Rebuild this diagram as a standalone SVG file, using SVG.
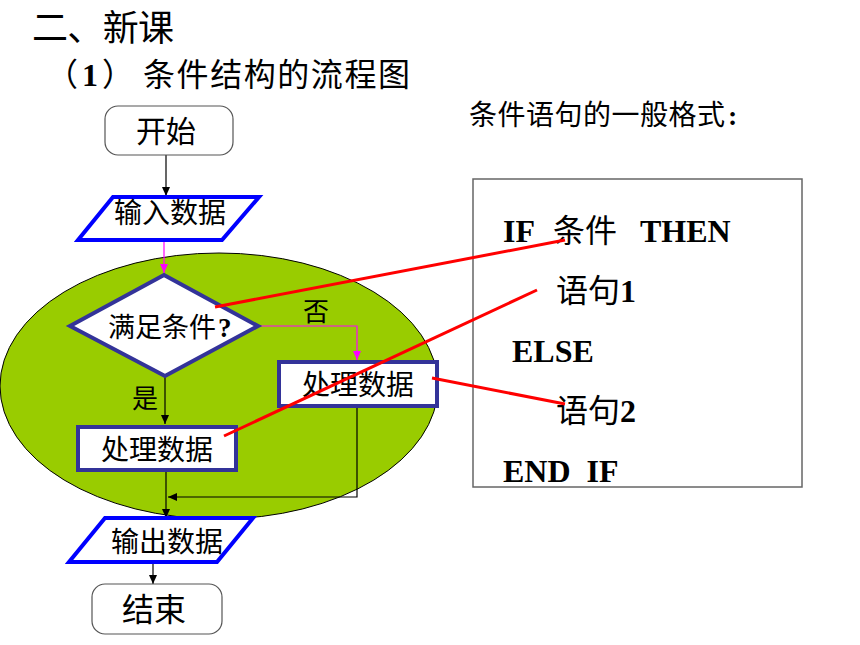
<svg xmlns="http://www.w3.org/2000/svg" width="860" height="645" viewBox="0 0 860 645">
<style>
  text { font-family: "Liberation Serif", "Noto Sans CJK SC", serif; fill: #000; }
  .cjk { font-family: "Noto Sans CJK SC", sans-serif; font-weight: normal; }
  .code { font-family: "Liberation Serif", "Noto Sans CJK SC", serif; font-weight: bold; font-size: 32px; }
  .b { font-family: "Liberation Serif", serif; font-weight: bold; }
  .term { fill: #fff; stroke: #555; stroke-width: 1.2; }
  .io { fill: #fff; stroke: #0000ff; stroke-width: 4; }
  .proc { fill: #fff; stroke: #333399; stroke-width: 4; }
  .blk { fill: none; stroke: #000; stroke-width: 1.2; }
  .mag { fill: none; stroke: #ff00ff; stroke-width: 1.2; }
  .red { fill: none; stroke: #ff0000; stroke-width: 3; }
</style>
<defs>
  <marker id="ab" markerWidth="10" markerHeight="10" refX="9" refY="5" orient="auto" markerUnits="userSpaceOnUse">
    <path d="M0,1 L9,5 L0,9 z" fill="#000"/>
  </marker>
  <marker id="am" markerWidth="10" markerHeight="10" refX="9" refY="5" orient="auto" markerUnits="userSpaceOnUse">
    <path d="M0,1 L9,5 L0,9 z" fill="#ff00ff"/>
  </marker>
</defs>
<rect width="860" height="645" fill="#fff"/>

<text class="cjk" x="32" y="41" font-size="36" textLength="142">二、新课</text>
<text class="cjk" x="46" y="86" font-size="32">（</text>
<text class="b" x="82" y="86" font-size="32">1</text>
<text class="cjk" x="102" y="86" font-size="32">）</text>
<text class="cjk" x="143" y="86" font-size="32" textLength="267">条件结构的流程图</text>
<text font-size="28" y="125"><tspan class="cjk" x="469" textLength="256">条件语句的一般格式</tspan><tspan class="b" x="728">:</tspan></text>

<ellipse id="region" cx="219" cy="386" rx="219" ry="133" fill="#99cc00" stroke="#000" stroke-width="1"/>

<g id="connectors">
  <line class="blk" x1="166" y1="155" x2="166" y2="196" marker-end="url(#ab)"/>
  <line class="mag" x1="164" y1="240" x2="164" y2="273" marker-end="url(#am)"/>
  <polyline class="mag" points="258,326 357,326 357,360" marker-end="url(#am)"/>
  <line class="blk" x1="165" y1="376" x2="165" y2="424" marker-end="url(#ab)"/>
  <line class="blk" x1="166" y1="470" x2="166" y2="518" marker-end="url(#ab)"/>
  <polyline class="blk" points="357,406 357,497 168,497" marker-end="url(#ab)"/>
  <line class="blk" x1="153" y1="562" x2="153" y2="584" marker-end="url(#ab)"/>
</g>

<g id="start">
  <rect class="term" x="105" y="106" width="128" height="49" rx="13"/>
  <text class="cjk" x="166" y="142" font-size="30" text-anchor="middle">开始</text>
</g>
<g id="input">
  <polygon class="io" points="113,197 259,197 222,240 78,240"/>
  <text class="cjk" x="170" y="223" font-size="28" text-anchor="middle">输入数据</text>
</g>
<g id="decision">
  <polygon class="proc" points="164,275 258,326 165,376 70,326"/>
  <text font-size="27" y="337"><tspan class="cjk" x="108">满足条件</tspan><tspan class="b" x="218">?</tspan></text>
</g>
<g id="label-no">
  <text class="cjk" x="316" y="321" font-size="26" text-anchor="middle">否</text>
</g>
<g id="label-yes">
  <text class="cjk" x="145" y="408" font-size="26" text-anchor="middle">是</text>
</g>
<g id="process-right">
  <rect class="proc" x="279" y="362" width="158" height="44"/>
  <text class="cjk" x="358" y="395" font-size="28" text-anchor="middle">处理数据</text>
</g>
<g id="process-left">
  <rect class="proc" x="78" y="427" width="158" height="43"/>
  <text class="cjk" x="157" y="460" font-size="28" text-anchor="middle">处理数据</text>
</g>
<g id="output">
  <polygon class="io" points="105,518 253,518 217,562 69,562"/>
  <text class="cjk" x="167" y="552" font-size="28" text-anchor="middle">输出数据</text>
</g>
<g id="end">
  <rect class="term" x="92" y="584" width="130" height="50" rx="13"/>
  <text class="cjk" x="154" y="621" font-size="32" text-anchor="middle">结束</text>
</g>

<g id="code-box">
  <rect x="473" y="179" width="329" height="308" fill="#fff" stroke="#666" stroke-width="1.5"/>
  <text class="code" x="503" y="242">IF</text>
  <text class="cjk" x="553" y="242" font-size="32">条件</text>
  <text class="code" x="640" y="242">THEN</text>
  <text class="code" y="302"><tspan class="cjk" x="556">语句</tspan><tspan x="620">1</tspan></text>
  <text class="code" x="512" y="362">ELSE</text>
  <text class="code" y="422"><tspan class="cjk" x="556">语句</tspan><tspan x="620">2</tspan></text>
  <text class="code" x="503" y="482" xml:space="preserve">END  IF</text>
</g>

<g id="red-links">
  <line class="red" x1="215" y1="307" x2="565" y2="240"/>
  <line class="red" x1="224" y1="436" x2="537" y2="290"/>
  <line class="red" x1="432" y1="378" x2="565" y2="404"/>
</g>
</svg>
